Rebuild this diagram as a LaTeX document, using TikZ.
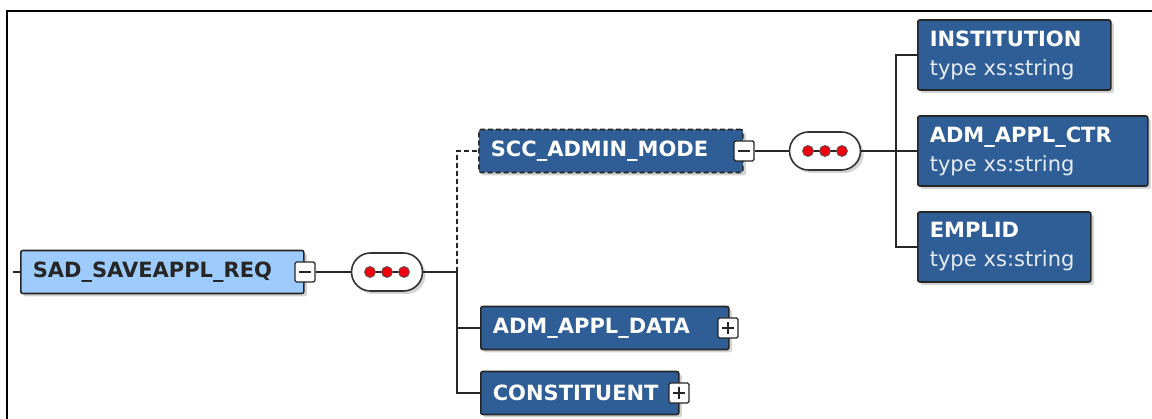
\documentclass[tikz,border=0pt]{standalone}
\usepackage{fontspec}
\setmainfont{DejaVu Sans}
\usetikzlibrary{positioning}
\usetikzlibrary{shadows}
\definecolor{xsdark}{HTML}{2F5E97}
\definecolor{xslight}{HTML}{9DCCFC}
\definecolor{xsred}{HTML}{EE0010}

\begin{document}
\begin{tikzpicture}[x=1pt,y=-1pt,
        elem/.style={rectangle, rounded corners=2pt, draw=black!85, line width=1.6pt,
          fill=xsdark, text=white, anchor=west, align=left, inner xsep=12pt, inner ysep=0pt,
          minimum height=43pt, font=\bfseries\fontsize{21}{29}\selectfont,
          drop shadow={shadow xshift=3pt, shadow yshift=-3pt, opacity=.35}},
        rootelem/.style={elem, fill=xslight, text=black!85},
        typed/.style={elem, minimum height=70pt},
        optional/.style={dash pattern=on 5pt off 3pt},
        link/.style={line width=1.7pt, black!85},
        seq/.style={rectangle, rounded corners=19pt, draw=black!80, line width=1.6pt, fill=white,
          minimum width=71pt, minimum height=38pt,
          drop shadow={shadow xshift=3pt, shadow yshift=-3pt, opacity=.35}},
        toggle/.style={rectangle, rounded corners=1.5pt, draw=black!85, line width=1.4pt,
          fill=white, minimum size=20pt, inner sep=0pt},
        minus/.style={toggle, path picture={
          \draw[line width=1.8pt] ([xshift=4pt]path picture bounding box.west) -- ([xshift=-4pt]path picture bounding box.east);}},
        plus/.style={toggle, path picture={
          \draw[line width=1.8pt] ([xshift=4pt]path picture bounding box.west) -- ([xshift=-4pt]path picture bounding box.east);
          \draw[line width=1.8pt] ([yshift=-4pt]path picture bounding box.north) -- ([yshift=4pt]path picture bounding box.south);}}]
        \useasboundingbox (0,0) rectangle (1152,419);
        \draw[line width=1.8pt] (7,419) -- (7,11) -- (1152,11);

        % root element and its sequence
        \coordinate (in) at (13,272);
        \node[rootelem, text width=259pt] (root) at (20,272) {SAD\_SAVEAPPL\_REQ};
        \node[minus] (root-t) at (305,272) {};
        \node[seq] (seq1) at (387,272) {};
        \coordinate (j1) at (457,272);
        \draw[link] (in) -- (root);
        \draw[link] (root-t) -- (seq1);
        \draw[link] (seq1) -- (j1);

        % children of the root
        \node[elem, optional, text width=240pt] (scc) at (478,151) {SCC\_ADMIN\_MODE};
        \node[minus] (scc-t) at (744,151) {};
        \node[elem, text width=224pt] (data) at (480,328) {ADM\_APPL\_DATA};
        \node[plus] (data-t) at (728,328) {};
        \node[elem, text width=174pt] (const) at (480,393) {CONSTITUENT};
        \node[plus] (const-t) at (679,393) {};
        \draw[link, optional] (j1) |- (scc.west);
        \draw[link] (j1) |- (data.west);
        \draw[link] (j1) |- (const.west);

        % sequence of SCC_ADMIN_MODE
        \node[seq] (seq2) at (825,151) {};
        \coordinate (j2) at (896,151);
        \draw[link] (scc-t) -- (seq2);
        \draw[link] (seq2) -- (j2);
        \node[typed, text width=169pt] (inst) at (917,55) {INSTITUTION\\{\mdseries\color{white!88!xsdark} type xs:string}};
        \node[typed, text width=206pt] (ctr) at (917,151) {ADM\_APPL\_CTR\\{\mdseries\color{white!88!xsdark} type xs:string}};
        \node[typed, text width=149pt] (empl) at (917,247) {EMPLID\\{\mdseries\color{white!88!xsdark} type xs:string}};
        \draw[link] (j2) |- (inst.west);
        \draw[link] (j2) -- (ctr.west);
        \draw[link] (j2) |- (empl.west);

        % the three dots
        \foreach \s in {seq1,seq2} {
        	\draw[link] ([xshift=-17pt]\s.center) -- ([xshift=17pt]\s.center);
        	\foreach \dx in {-17,0,17}
        		\filldraw[fill=xsred, draw=black!65, line width=.8pt] ([xshift=\dx pt]\s.center) circle (5.5pt);
        }
\end{tikzpicture}
\end{document}
